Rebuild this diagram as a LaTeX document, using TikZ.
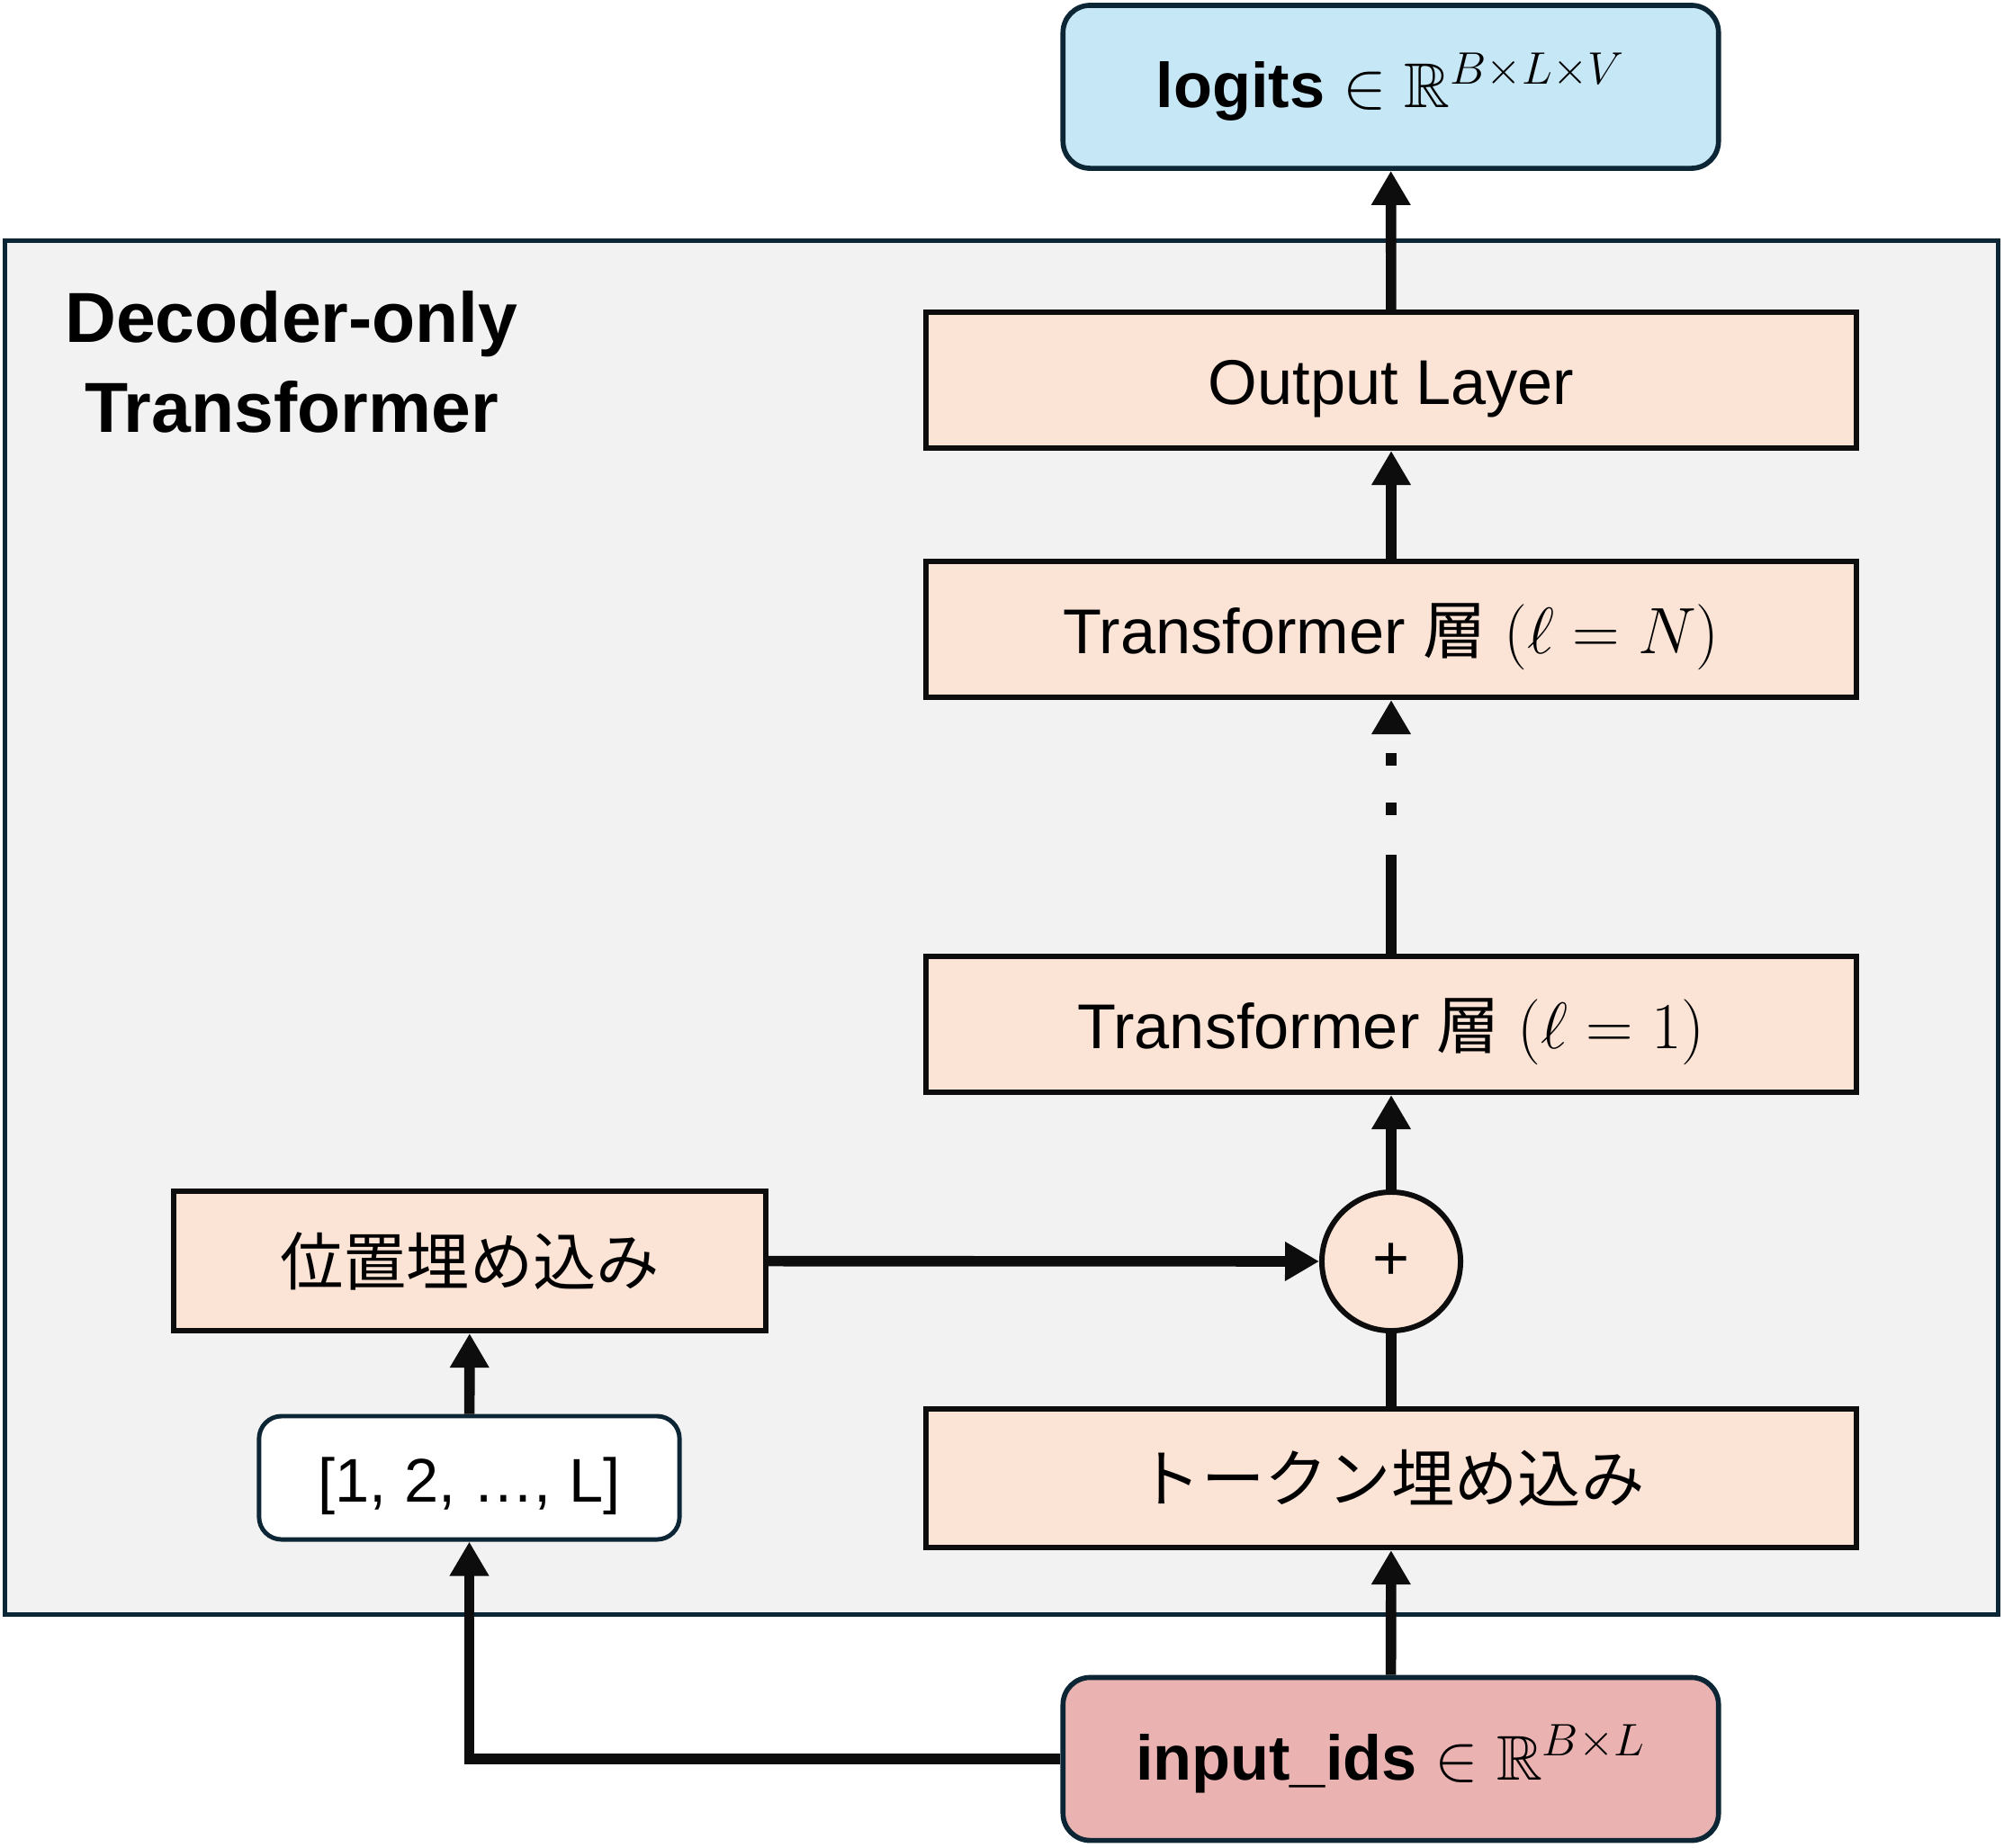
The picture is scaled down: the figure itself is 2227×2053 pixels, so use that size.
\documentclass[tikz,border=0pt]{standalone}
\usepackage{amsmath,amssymb}
\usepackage{fontspec}
\setmainfont{Liberation Sans}
\newfontfamily\jpfont{Noto Sans CJK JP}
\usetikzlibrary{arrows.meta}
\definecolor{layerfill}{HTML}{FBE3D6}
\definecolor{logitsfill}{HTML}{C6E7F5}
\definecolor{idsfill}{HTML}{EBB2B2}
\definecolor{framefill}{HTML}{F2F2F2}
\definecolor{navy}{HTML}{0D2636}
\definecolor{ink}{HTML}{0D0D0D}

\begin{document}
\begin{tikzpicture}[x=0.01cm, y=-0.01cm,
  layer/.style={rectangle, draw=ink, fill=layerfill, line width=1.7pt, minimum width=10.34cm, minimum height=1.51cm, inner sep=0pt, text height=15.3pt, text depth=0pt, font=\fontsize{20}{24}\selectfont},
  tensor/.style={rectangle, rounded corners=0.3cm, draw=navy, line width=1.6pt, minimum width=7.28cm, minimum height=1.81cm, inner sep=0pt, font=\fontsize{20}{24}\selectfont\bfseries},
  flow/.style={draw=ink, line width=3.3pt, -{Triangle[length=10.8pt,width=11.7pt]}},
]
\useasboundingbox (0,0) rectangle (2227,2053);

% Decoder frame
\node[rectangle, draw=navy, fill=framefill, line width=1.4pt, minimum width=22.14cm, minimum height=15.26cm] (decoder) at (1113,1031) {};
\node[font=\fontsize{22.4}{28.5}\selectfont\bfseries, align=center, inner sep=0pt] (title) at (324,402) {Decoder-only\\Transformer};

% Output
\node[tensor, fill=logitsfill] (logits) at (1545.5,96.5) {logits $\in\mathbb{R}^{B\times L\times V}$};

% Layer stack
\node[layer] (out) at (1546,422.5) {Output Layer};
\node[layer] (layerN) at (1546,699.5) {Transformer {\jpfont 層} $(\ell = N)$};
\node[layer] (layer1) at (1546,1138.5) {Transformer {\jpfont 層} $(\ell = 1)$};

% Embeddings
\node[circle, draw=ink, fill=layerfill, line width=1.7pt, minimum size=1.54cm, inner sep=0pt, font=\fontsize{20}{24}\selectfont] (plus) at (1546,1402) {+};
\node[layer, minimum width=6.58cm, minimum height=1.55cm] (pos) at (522,1401.5) {\jpfont 位置埋め込み};
\node[layer, minimum height=1.54cm] (token) at (1546,1643) {\jpfont トークン埋め込み};
\node[rectangle, rounded corners=0.25cm, draw=navy, fill=white, line width=1.4pt, minimum width=4.67cm, minimum height=1.37cm, text height=15.3pt, text depth=0pt, font=\fontsize{19.5}{24}\selectfont] (ids) at (521.5,1642.5) {[1, 2, …, L]};

% Input
\node[tensor, fill=idsfill] (input) at (1545.5,1955) {input\_ids $\in\mathbb{R}^{B\times L}$};

% Connectors
\draw[flow] (input) -- (token);
\draw[flow] (input.west) -| (ids.south);
\draw[flow] (ids) -- (pos);
\draw[flow] (pos) -- (plus);
\draw[draw=ink, line width=3.3pt] (token) -- (plus);
\draw[flow] (plus) -- (layer1);
\draw[flow, dash pattern=on 1.10cm off 0.44cm on 0.14cm off 0.41cm on 0.14cm off 2cm] (layer1) -- (layerN);
\draw[flow] (layerN) -- (out);
\draw[flow] (out) -- (logits);
\end{tikzpicture}
\end{document}
